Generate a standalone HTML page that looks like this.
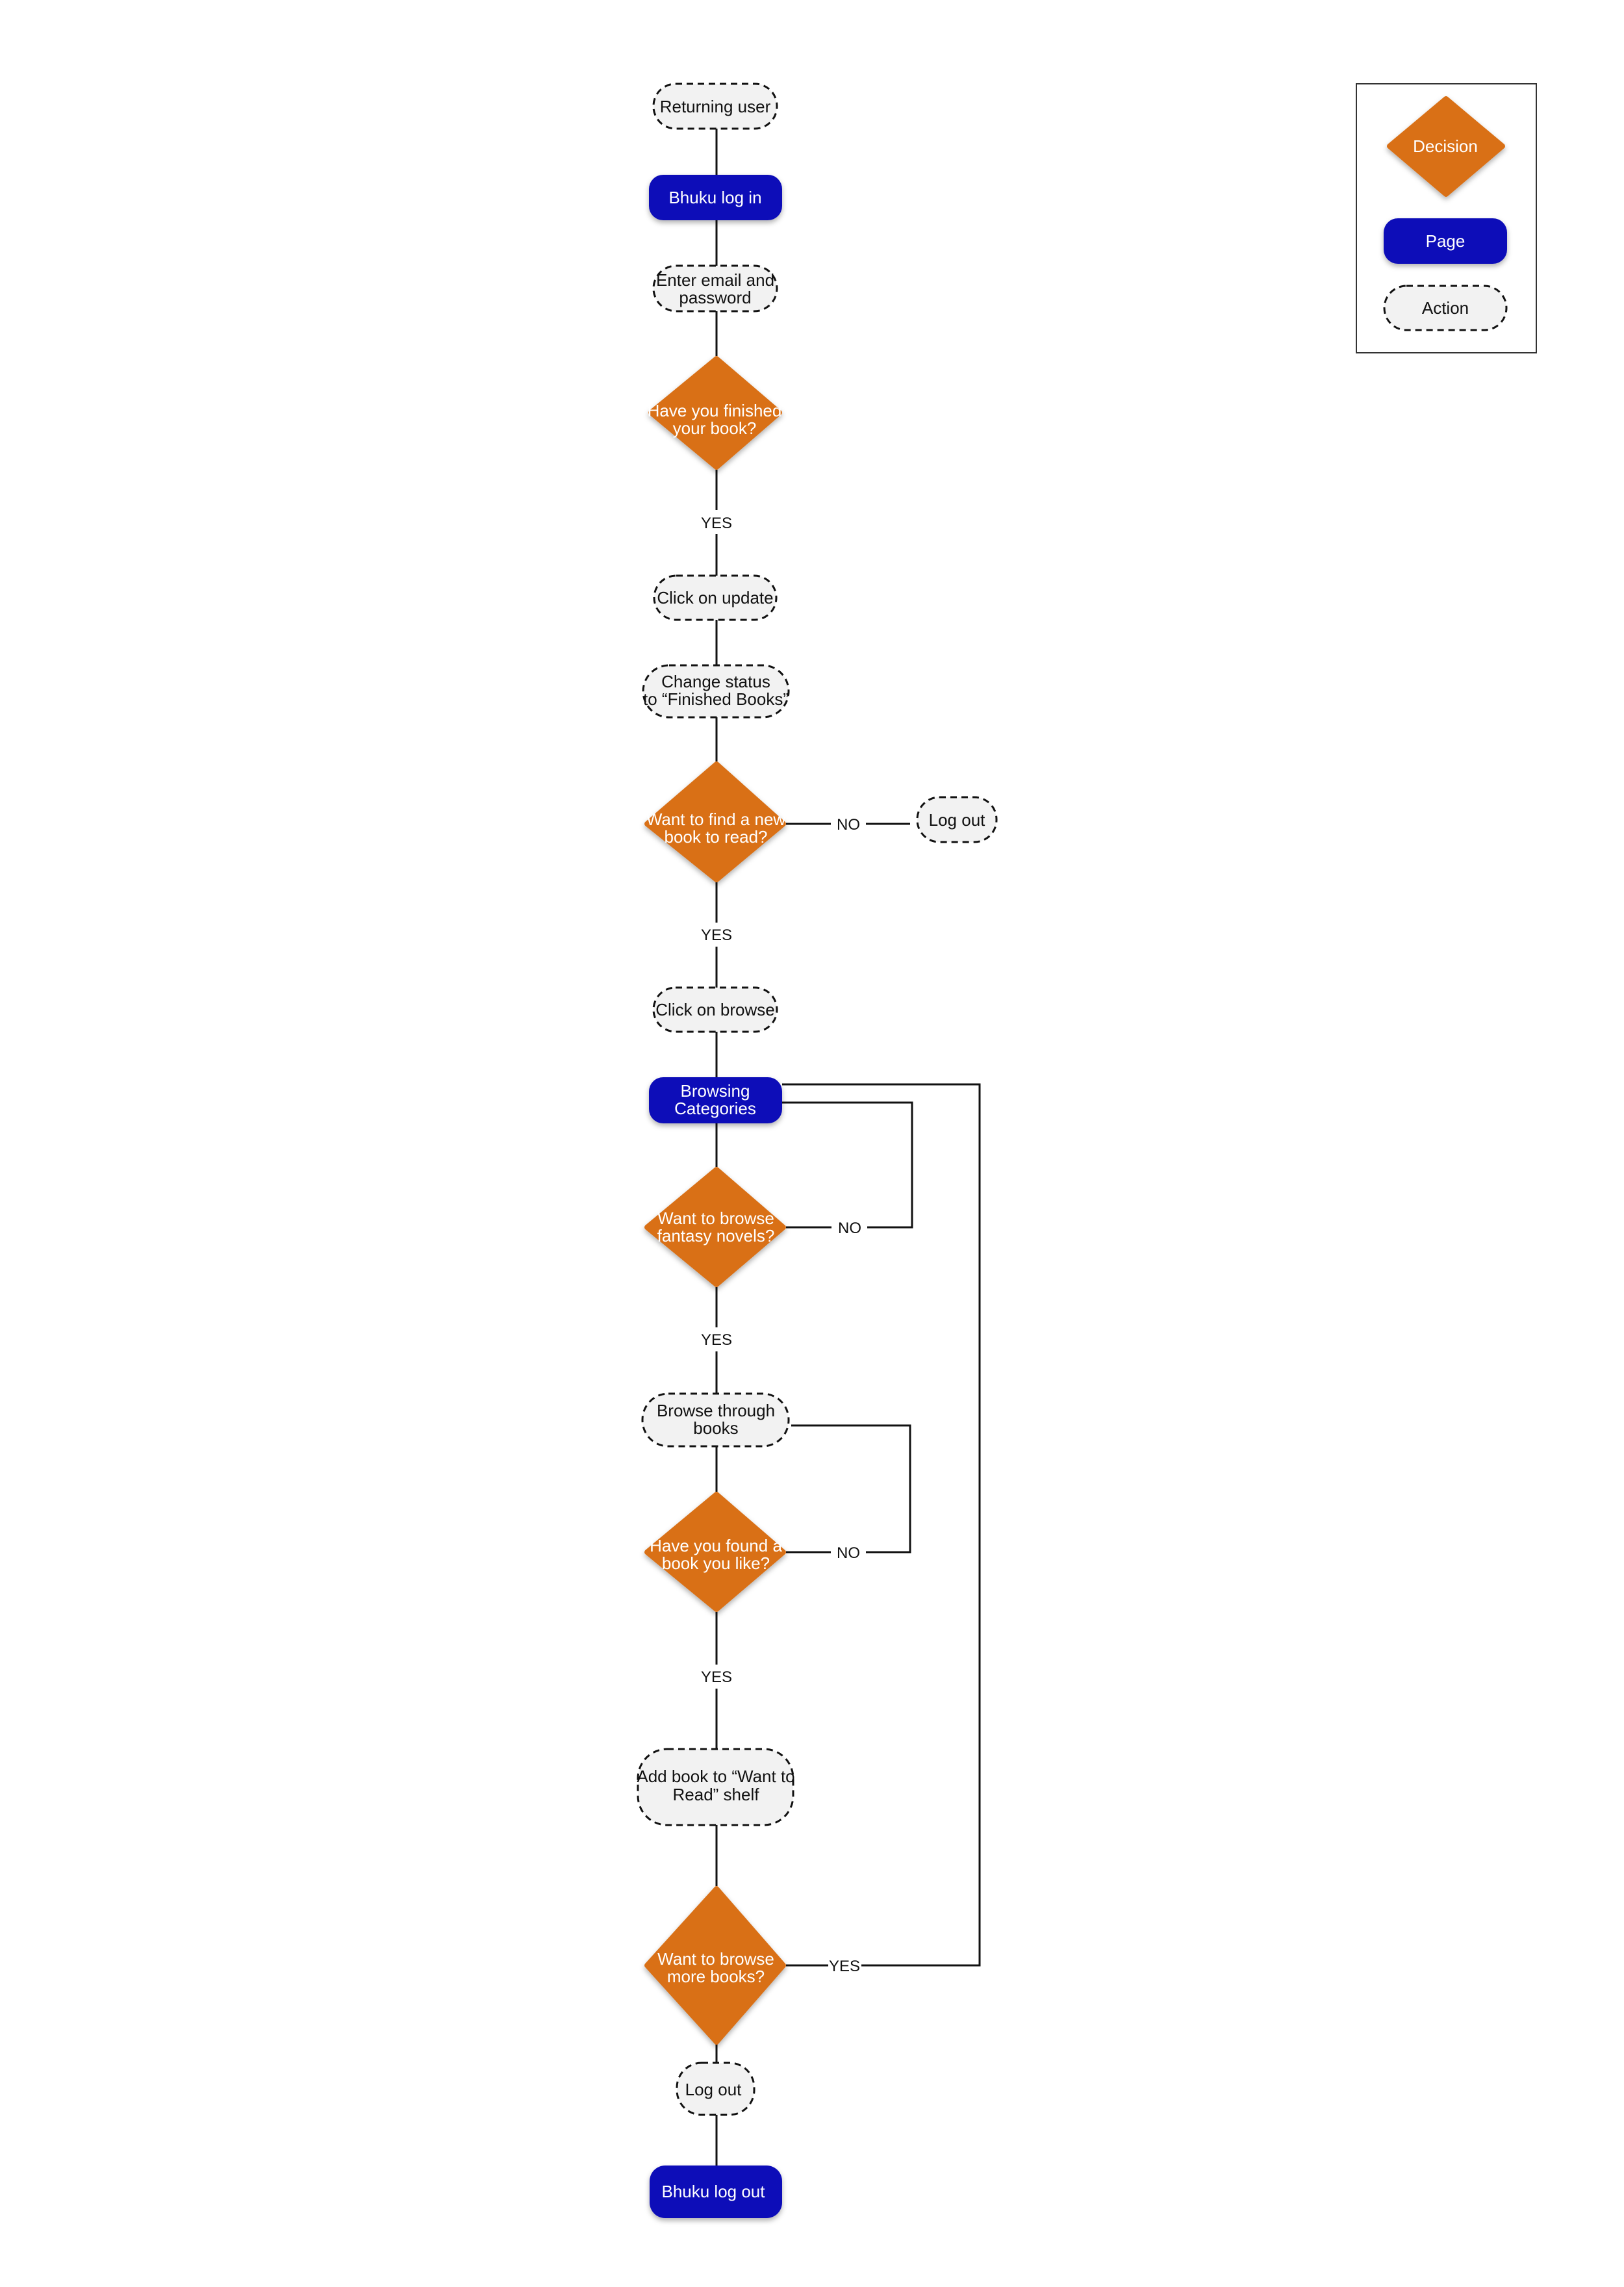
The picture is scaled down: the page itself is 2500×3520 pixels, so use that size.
<!DOCTYPE html>
<html><head><meta charset="utf-8"><style>
html,body{margin:0;padding:0;background:#fff;}
svg{display:block;}
text{font-family:"Liberation Sans",sans-serif;}
</style></head><body>
<svg width="2500" height="3520" viewBox="0 0 2500 3520" xmlns="http://www.w3.org/2000/svg">
<defs>
<filter id="sh" x="-20%" y="-20%" width="140%" height="150%"><feDropShadow dx="0" dy="4" stdDeviation="4" flood-color="#000" flood-opacity="0.3"/></filter>
</defs>
<rect width="2500" height="3520" fill="#fff"/>
<g stroke="#111" stroke-width="3" fill="none">
<line x1="1103" y1="198" x2="1103" y2="269"/>
<line x1="1103" y1="339" x2="1103" y2="409"/>
<line x1="1103" y1="479" x2="1103" y2="548"/>
<line x1="1103" y1="723" x2="1103" y2="785"/>
<line x1="1103" y1="822" x2="1103" y2="886"/>
<line x1="1103" y1="954" x2="1103" y2="1024"/>
<line x1="1103" y1="1104" x2="1103" y2="1172"/>
<line x1="1210" y1="1268" x2="1279" y2="1268"/>
<line x1="1333" y1="1268" x2="1401" y2="1268"/>
<line x1="1103" y1="1358" x2="1103" y2="1420"/>
<line x1="1103" y1="1457" x2="1103" y2="1520"/>
<line x1="1103" y1="1588" x2="1103" y2="1658"/>
<line x1="1103" y1="1729" x2="1103" y2="1796"/>
<polyline points="1204,1669 1508,1669 1508,3025 1326,3025"/>
<polyline points="1204,1697 1404,1697 1404,1889 1335,1889"/>
<line x1="1210" y1="1889" x2="1280" y2="1889"/>
<line x1="1103" y1="1981" x2="1103" y2="2043"/>
<line x1="1103" y1="2080" x2="1103" y2="2145"/>
<polyline points="1218,2194 1401,2194 1401,2389 1333,2389"/>
<line x1="1210" y1="2389" x2="1279" y2="2389"/>
<line x1="1103" y1="2226" x2="1103" y2="2296"/>
<line x1="1103" y1="2481" x2="1103" y2="2562"/>
<line x1="1103" y1="2599" x2="1103" y2="2692"/>
<line x1="1103" y1="2809" x2="1103" y2="2903"/>
<line x1="1210" y1="3025" x2="1275" y2="3025"/>
<line x1="1103" y1="3147" x2="1103" y2="3062"/>
<line x1="1103" y1="3099" x2="1103" y2="3175"/>
<line x1="1103" y1="3255" x2="1103" y2="3333"/>
</g>
<rect x="2088" y="129" width="277" height="414" fill="none" stroke="#333" stroke-width="2"/>
<!-- connector labels -->
<g font-size="24" fill="#111" text-anchor="middle">
<text x="1103" y="813">YES</text>
<text x="1306" y="1277">NO</text>
<text x="1103" y="1447">YES</text>
<text x="1308" y="1898">NO</text>
<text x="1103" y="2070">YES</text>
<text x="1306" y="2398">NO</text>
<text x="1103" y="2589">YES</text>
<text x="1300" y="3034">YES</text>
<text x="1103" y="3089">NO</text>
</g>
<!-- action nodes -->
<g fill="#f2f2f2" stroke="#111" stroke-width="3" stroke-dasharray="10,7">
<rect x="1006" y="129" width="190" height="69" rx="34"/>
<rect x="1006" y="409" width="190" height="70" rx="35"/>
<rect x="1007" y="886" width="188" height="68" rx="34"/>
<rect x="990" y="1024" width="224" height="80" rx="40"/>
<rect x="1412" y="1227" width="122" height="69" rx="34"/>
<rect x="1006" y="1520" width="190" height="68" rx="34"/>
<rect x="989" y="2145" width="225" height="81" rx="40"/>
<rect x="982" y="2692" width="239" height="117" rx="45"/>
<rect x="1042" y="3175" width="119" height="80" rx="38"/>
<rect x="2131" y="440" width="188" height="68" rx="34"/>
</g>
<!-- page nodes -->
<g fill="#1010b8" filter="url(#sh)">
<rect x="999" y="269" width="205" height="70" rx="22"/>
<rect x="999" y="1658" width="205" height="71" rx="22"/>
<rect x="1000" y="3333" width="204" height="81" rx="24"/>
<rect x="2130" y="336" width="190" height="70" rx="22"/>
</g>
<!-- decisions -->
<g fill="#d97015" stroke="#d97015" stroke-width="8" stroke-linejoin="round" filter="url(#sh)">
<polygon points="1103,552 1200,635 1103,719 1002,635"/>
<polygon points="1103,1176 1206,1268 1103,1354 996,1268"/>
<polygon points="1103,1800 1206,1889 1103,1977 996,1889"/>
<polygon points="1103,2300 1206,2389 1103,2477 996,2389"/>
<polygon points="1103,2907 1206,3025 1103,3143 996,3025"/>
<polygon points="2226,152 2313,225 2226,299 2139,225"/>
</g>
<g font-size="26" fill="#111" text-anchor="middle">
<text x="1101" y="173">Returning user</text>
<text x="1101" y="440">Enter email and</text>
<text x="1101" y="467">password</text>
<text x="1101" y="929">Click on update</text>
<text x="1102" y="1058">Change status</text>
<text x="1102" y="1085">to “Finished Books”</text>
<text x="1473" y="1271">Log out</text>
<text x="1101" y="1563">Click on browse</text>
<text x="1102" y="2180">Browse through</text>
<text x="1102" y="2207">books</text>
<text x="1102" y="2743">Add book to “Want to</text>
<text x="1102" y="2771">Read” shelf</text>
<text x="1098" y="3225">Log out</text>
<text x="2225" y="483">Action</text>
</g>
<g font-size="26" fill="#fff" text-anchor="middle">
<text x="1101" y="313">Bhuku log in</text>
<text x="1101" y="1688">Browsing</text>
<text x="1101" y="1715">Categories</text>
<text x="1098" y="3382">Bhuku log out</text>
<text x="2225" y="380">Page</text>
<text x="2225" y="234">Decision</text>
<text x="1100" y="641">Have you finished</text>
<text x="1100" y="668">your book?</text>
<text x="1102" y="1270">Want to find a new</text>
<text x="1102" y="1297">book to read?</text>
<text x="1102" y="1884">Want to browse</text>
<text x="1102" y="1911">fantasy novels?</text>
<text x="1102" y="2388">Have you found a</text>
<text x="1102" y="2415">book you like?</text>
<text x="1102" y="3024">Want to browse</text>
<text x="1102" y="3051">more books?</text>
</g>
</svg>
</body></html>
